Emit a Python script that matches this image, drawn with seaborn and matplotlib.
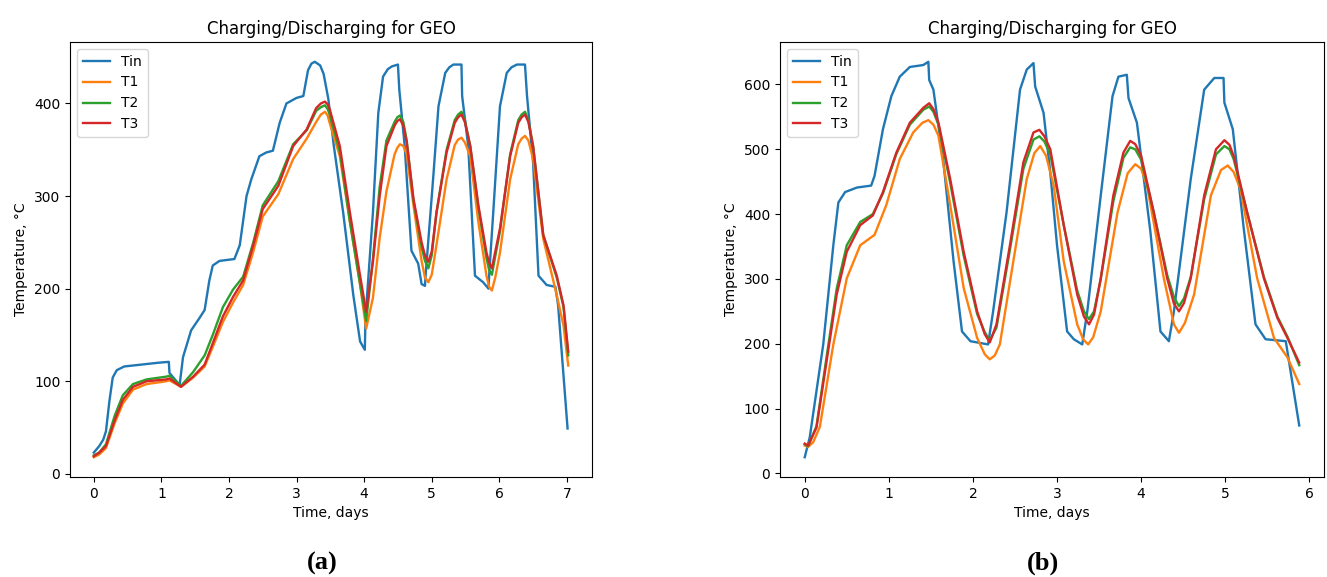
import matplotlib
matplotlib.use("Agg")
import matplotlib.pyplot as plt
import seaborn as sns

# Panel (a): 7 days of charging/discharging
a_tin_t = [0.00, 0.08, 0.14, 0.18, 0.23, 0.28, 0.34, 0.45, 0.70, 0.95, 1.11, 1.12, 1.27, 1.32, 1.44,
           1.57, 1.64, 1.71, 1.76, 1.86, 2.08, 2.16, 2.26, 2.33, 2.45, 2.55, 2.65, 2.75, 2.85, 3.00,
           3.10, 3.17, 3.22, 3.27, 3.35, 3.40, 3.47, 3.55, 3.69, 3.84, 3.94, 4.01, 4.02, 4.13, 4.21,
           4.28, 4.35, 4.41, 4.50, 4.52, 4.60, 4.70, 4.80, 4.85, 4.90, 4.91, 5.02, 5.10, 5.20, 5.26,
           5.32, 5.44, 5.45, 5.54, 5.64, 5.76, 5.84, 5.85, 5.91, 6.01, 6.11, 6.18, 6.26, 6.38, 6.41,
           6.50, 6.58, 6.70, 6.83, 6.87, 7.01]
a_tin = [23, 30, 37, 46, 78, 104, 112, 116, 118, 120, 121, 109, 96, 126, 155,
         169, 177, 209, 225, 230, 232, 247, 300, 318, 343, 347, 349, 379, 400, 406,
         408, 436, 443, 445, 441, 432, 405, 355, 282, 193, 143, 134, 168, 282, 390,
         429, 437, 440, 442, 415, 354, 241, 227, 205, 203, 215, 318, 397, 433, 439,
         442, 442, 408, 354, 214, 207, 200, 215, 282, 397, 433, 439, 442, 442, 408,
         336, 214, 204, 202, 182, 49]

a_t = [0.00, 0.08, 0.18, 0.31, 0.43, 0.58, 0.78, 1.07, 1.12, 1.29, 1.47, 1.64, 1.76, 1.91, 2.06,
       2.21, 2.36, 2.50, 2.73, 2.95, 3.15, 3.29, 3.36, 3.42, 3.46, 3.49, 3.64, 3.79, 3.94, 4.03,
       4.13, 4.23, 4.33, 4.45, 4.49, 4.53, 4.58, 4.63, 4.73, 4.85, 4.90, 4.95, 5.00, 5.07, 5.22,
       5.34, 5.39, 5.44, 5.49, 5.57, 5.69, 5.81, 5.85, 5.89, 5.94, 6.01, 6.16, 6.28, 6.33, 6.38,
       6.43, 6.50, 6.65, 6.85, 6.95, 7.02]
a_t1 = [18, 21, 28, 55, 76, 91, 97, 100, 101, 94, 104, 116, 137, 164, 185,
        204, 240, 278, 302, 340, 362, 380, 388, 391, 387, 379, 343, 272, 204, 157,
        190, 255, 305, 345, 352, 356, 354, 345, 290, 230, 212, 207, 215, 247, 318,
        355, 361, 363, 358, 343, 272, 214, 202, 198, 212, 239, 318, 356, 362, 365,
        360, 340, 254, 193, 160, 117]
a_t2 = [20, 23, 32, 63, 85, 97, 102, 105, 106, 95, 110, 128, 150, 180, 199,
        213, 250, 290, 316, 356, 371, 392, 396, 398, 394, 388, 348, 272, 205, 165,
        232, 310, 360, 380, 385, 387, 380, 360, 295, 245, 230, 222, 236, 282, 350,
        382, 388, 391, 382, 354, 288, 233, 220, 215, 235, 262, 345, 382, 388, 391,
        382, 354, 258, 212, 180, 128]
a_t3 = [19, 23, 30, 58, 80, 94, 100, 102, 103, 94, 105, 118, 141, 170, 191,
        209, 247, 286, 311, 354, 372, 395, 400, 402, 399, 394, 354, 282, 214, 175,
        229, 300, 354, 376, 381, 383, 376, 358, 297, 250, 236, 229, 240, 282, 347,
        379, 385, 388, 380, 354, 290, 239, 228, 222, 240, 265, 343, 379, 385, 388,
        380, 354, 258, 214, 182, 132]

# Panel (b): 6 days
b_tin_t = [0.00, 0.06, 0.22, 0.34, 0.40, 0.48, 0.62, 0.79, 0.83, 0.93, 1.03, 1.13, 1.25, 1.41, 1.47,
           1.48, 1.53, 1.65, 1.77, 1.87, 1.97, 2.18, 2.24, 2.40, 2.56, 2.64, 2.72, 2.74, 2.84, 2.92,
           3.00, 3.12, 3.20, 3.30, 3.36, 3.52, 3.66, 3.73, 3.83, 3.85, 3.95, 4.11, 4.23, 4.33, 4.39,
           4.59, 4.75, 4.87, 4.98, 4.99, 5.09, 5.22, 5.36, 5.48, 5.72, 5.88]
b_tin = [25, 56, 199, 352, 418, 434, 441, 444, 459, 531, 582, 612, 627, 630, 635,
         607, 592, 480, 327, 219, 204, 199, 250, 403, 592, 623, 633, 597, 556, 464,
         352, 219, 207, 199, 250, 429, 582, 612, 615, 579, 541, 373, 219, 204, 250,
         454, 592, 610, 610, 572, 531, 378, 230, 207, 204, 74]

b_t = [0.00, 0.04, 0.14, 0.26, 0.38, 0.50, 0.66, 0.81, 0.93, 1.09, 1.25, 1.41, 1.48, 1.53, 1.59,
       1.73, 1.89, 2.05, 2.14, 2.20, 2.28, 2.44, 2.60, 2.72, 2.79, 2.85, 2.92, 3.08, 3.24, 3.32,
       3.38, 3.44, 3.52, 3.67, 3.79, 3.87, 3.93, 4.00, 4.15, 4.31, 4.39, 4.45, 4.51, 4.59, 4.75,
       4.89, 4.99, 5.05, 5.10, 5.26, 5.46, 5.62, 5.74, 5.88]
b_t2 = [45, 42, 73, 180, 285, 352, 388, 400, 432, 493, 538, 561, 566, 558, 538,
        448, 336, 246, 218, 205, 225, 345, 470, 515, 520, 512, 492, 383, 282, 250,
        238, 250, 300, 420, 487, 503, 500, 484, 403, 306, 272, 258, 270, 303, 423,
        492, 505, 500, 485, 403, 303, 242, 211, 167]
b_t3 = [46, 43, 71, 173, 276, 342, 383, 398, 434, 495, 541, 564, 571, 562, 541,
        454, 342, 250, 215, 202, 230, 352, 480, 526, 530, 520, 500, 383, 276, 242,
        230, 245, 301, 429, 495, 513, 508, 490, 403, 301, 262, 250, 263, 301, 429,
        500, 514, 507, 490, 403, 301, 240, 209, 171]

b_t1_t = [0.00, 0.04, 0.10, 0.18, 0.34, 0.50, 0.66, 0.83, 0.97, 1.13, 1.29, 1.40, 1.47, 1.53, 1.59,
          1.73, 1.89, 2.05, 2.14, 2.20, 2.26, 2.32, 2.48, 2.64, 2.73, 2.80, 2.87, 2.96, 3.08, 3.24,
          3.31, 3.37, 3.43, 3.52, 3.72, 3.84, 3.93, 4.00, 4.07, 4.27, 4.39, 4.45, 4.52, 4.63, 4.83,
          4.95, 5.03, 5.10, 5.18, 5.38, 5.58, 5.74, 5.88]
b_t1 = [43, 41, 48, 72, 199, 301, 352, 368, 414, 485, 526, 541, 545, 538, 521,
        414, 286, 209, 184, 176, 182, 199, 327, 454, 494, 505, 490, 444, 327, 230,
        207, 199, 210, 250, 403, 463, 477, 470, 444, 301, 230, 217, 232, 276, 429,
        468, 475, 465, 439, 301, 209, 179, 138]

series_names = ["Tin", "T1", "T2", "T3"]
colors = sns.color_palette("tab10", 4)

fig = plt.figure(figsize=(13.27, 5.77), dpi=100)
ax_a = fig.add_axes([0.0528, 0.1733, 0.3933, 0.7539])
ax_b = fig.add_axes([0.5878, 0.1733, 0.4099, 0.7539])

panels = [
    (ax_a, [(a_tin_t, a_tin), (a_t, a_t1), (a_t, a_t2), (a_t, a_t3)], "(a)", 0.2427),
    (ax_b, [(b_tin_t, b_tin), (b_t1_t, b_t1), (b_t, b_t2), (b_t, b_t3)], "(b)", 0.786),
]

for ax, data, tag, xpos in panels:
    for (t, temp), name, c in zip(data, series_names, colors):
        sns.lineplot(x=t, y=temp, ax=ax, label=name, color=c, linewidth=1.7,
                     estimator=None, sort=False)
    ax.set_title("Charging/Discharging for GEO", fontsize=12)
    ax.set_xlabel("Time, days", fontsize=10)
    ax.set_ylabel("Temperature, °C", fontsize=10)
    ax.legend(loc="upper left", fontsize=10)
    fig.text(xpos, 0.024, tag, ha="center", va="center", fontsize=19,
             fontweight="bold", family="Liberation Serif")

ax_a.set_xticks(range(0, 8))
ax_a.set_yticks(range(0, 401, 100))
ax_b.set_xticks(range(0, 7))
ax_b.set_yticks(range(0, 601, 100))

plt.savefig("out.png", dpi=100)
